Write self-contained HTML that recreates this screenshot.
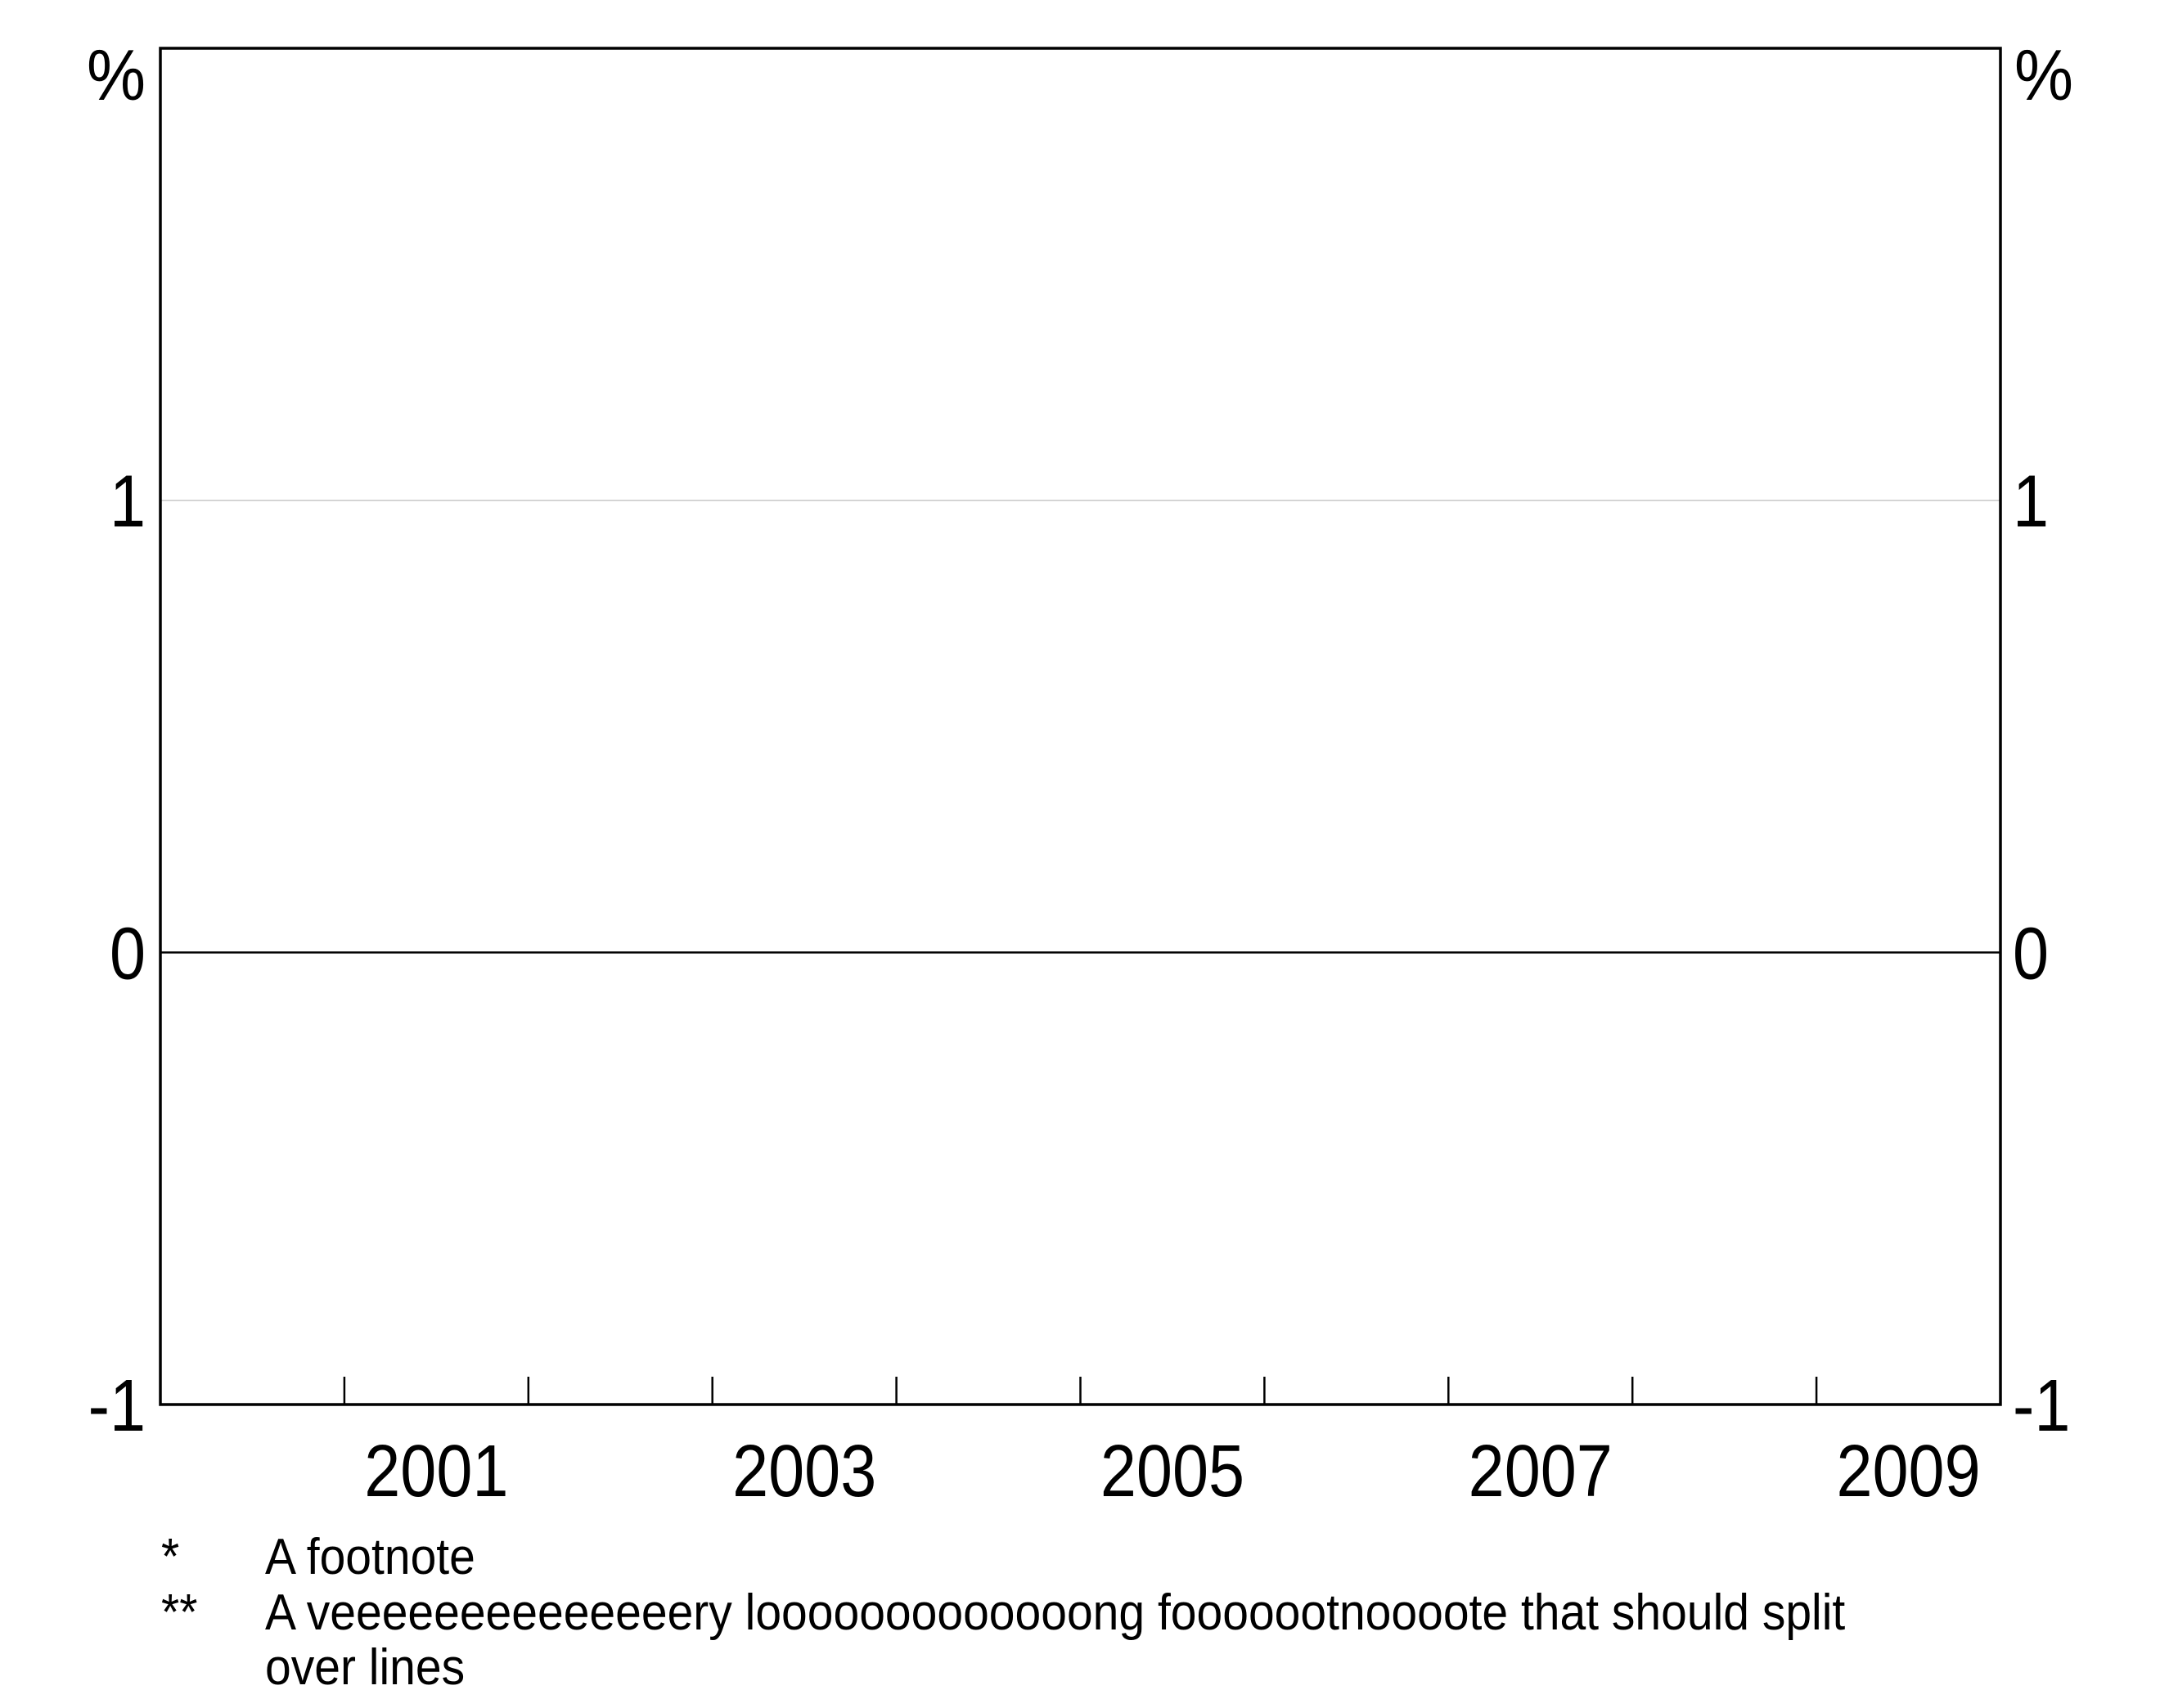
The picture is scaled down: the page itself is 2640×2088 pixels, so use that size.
<!DOCTYPE html>
<html><head><meta charset="utf-8"><style>
html,body{margin:0;padding:0;background:#fff}
svg{display:block}
text{font-family:"Liberation Sans",Arial,sans-serif;fill:#000}
</style></head><body>
<svg id="chart" width="2640" height="2088" viewBox="0 0 2640 2088">
<g id="grid"></g>
<g id="ticks"></g>
<rect x="196" y="59" width="2249" height="1658" fill="none" stroke="#000" stroke-width="3.5"/>
<g id="labels"></g>
<text font-size="88" text-anchor="end" transform="translate(178,122) scale(0.92,1)">%</text>
<text font-size="88" transform="translate(2462,122) scale(0.92,1)">%</text>
<g>
<text font-size="62" transform="translate(197,1924) scale(0.92,1)">*</text>
<text font-size="62" transform="translate(324,1924) scale(0.92,1)">A footnote</text>
<text font-size="62" transform="translate(197,1992) scale(0.92,1)">**</text>
<text font-size="62" transform="translate(324,1992) scale(0.92,1)">A veeeeeeeeeeeeeery looooooooooooong fooooootnoooote that should split</text>
<text font-size="62" transform="translate(324,2059) scale(0.92,1)">over lines</text>
</g>
</svg>
<script>
const yTicks = [-1, 0, 1];
const yTickLabels = ["-1", "0", "1"];
const xYears = [2001, 2003, 2005, 2007, 2009];
const xTickYears = [2001, 2002, 2003, 2004, 2005, 2006, 2007, 2008, 2009];
const NS = "http://www.w3.org/2000/svg";
const L = 196, R = 2445, T = 59, B = 1717;
const yMin = -1, yMax = 2, xMin = 2000, xMax = 2010;
function ys(v){ return B - (v - yMin) / (yMax - yMin) * (B - T); }
function xs(v){ return L + (v - xMin) / (xMax - xMin) * (R - L); }
function mk(tag, attrs){ const e = document.createElementNS(NS, tag); for (const k in attrs) e.setAttribute(k, attrs[k]); return e; }
const grid = document.getElementById('grid'), ticks = document.getElementById('ticks'), labels = document.getElementById('labels');
const FS = 90, SX = 0.88;
yTicks.forEach((v, i) => {
  if (v > yMin) {
    const ln = mk('line', {x1: L, x2: R, y1: ys(v), y2: ys(v), stroke: v === 0 ? '#000' : '#c8c8c8', 'stroke-width': v === 0 ? 2.5 : 1.5});
    
    
    grid.appendChild(ln);
  }
  const tl = mk('text', {'font-size': FS, 'text-anchor': 'end', transform: 'translate(178,' + (ys(v) + 32) + ') scale(' + SX + ',1)'});
  tl.textContent = yTickLabels[i];
  
  
  labels.appendChild(tl);
  const tr = mk('text', {'font-size': FS, transform: 'translate(2460,' + (ys(v) + 32) + ') scale(' + SX + ',1)'});
  tr.textContent = yTickLabels[i];
  
  
  labels.appendChild(tr);
});
xTickYears.forEach(yr => {
  const t = mk('line', {x1: xs(yr), x2: xs(yr), y1: B, y2: B - 34, stroke: '#000', 'stroke-width': 2.5});
  
  
  ticks.appendChild(t);
});
xYears.forEach(yr => {
  const t = mk('text', {'font-size': FS, 'text-anchor': 'middle', transform: 'translate(' + xs(yr + 0.5) + ',1829) scale(' + SX + ',1)'});
  t.textContent = String(yr);
  
  
  labels.appendChild(t);
});
</script>
</body></html>
